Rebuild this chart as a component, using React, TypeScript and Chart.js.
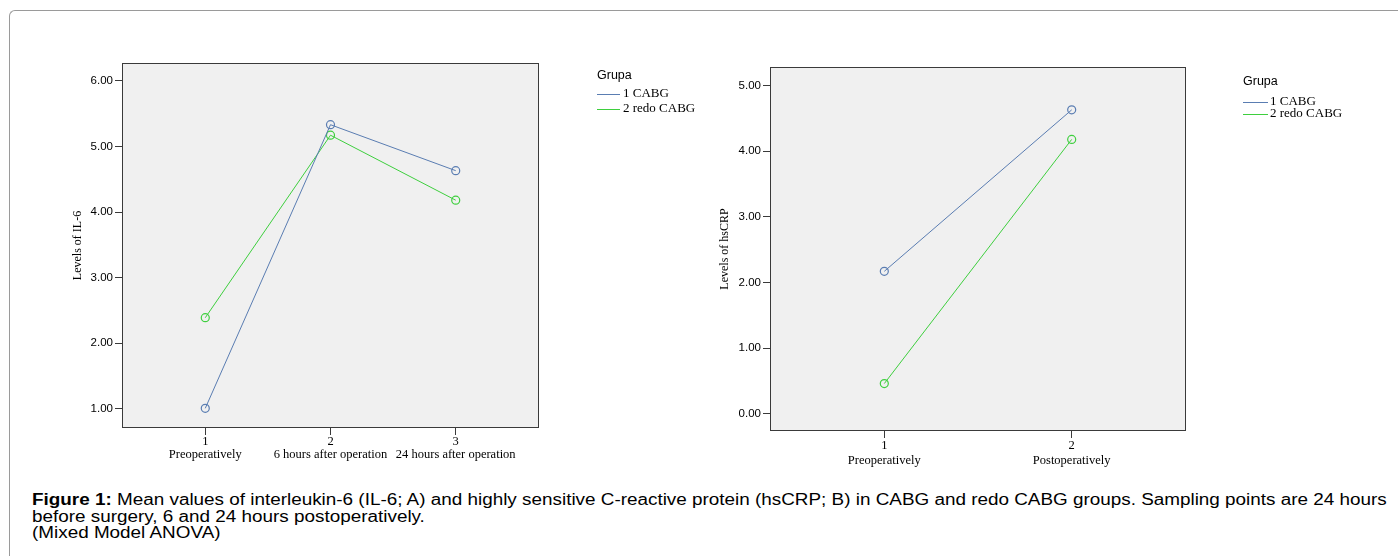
import React, { useEffect, useRef } from "react";
import { Chart, registerables } from "chart.js";

Chart.register(...registerables);

// ---------- data ----------
const groupLabels = ["1 CABG", "2 redo CABG"];
const legendTitle = "Grupa";

const il6Categories = ["Preoperatively", "6 hours after operation", "24 hours after operation"];
const il6Cabg = [1.01, 5.33, 4.63];
const il6Redo = [2.39, 5.17, 4.18];
const il6YTicks = [1, 2, 3, 4, 5, 6];
const il6YTitle = "Levels of IL-6";

const crpCategories = ["Preoperatively", "Postoperatively"];
const crpCabg = [2.17, 4.63];
const crpRedo = [0.46, 4.18];
const crpYTicks = [0, 1, 2, 3, 4, 5];
const crpYTitle = "Levels of hsCRP";

const captionBold = "Figure 1:";
const captionLine1 =
  " Mean values of interleukin-6 (IL-6; A) and highly sensitive C-reactive protein (hsCRP; B) in CABG and redo CABG groups. Sampling points are 24 hours";
const captionLine2 = "before surgery, 6 and 24 hours postoperatively.";
const captionLine3 = "(Mixed Model ANOVA)";

// ---------- styles ----------
const COLORS = ["#5a7db2", "#3ecf3e"];
const SERIF = "'Liberation Serif', 'Times New Roman', serif";
const SANS = "'Liberation Sans', Arial, sans-serif";
const AXIS_COLOR = "#3a3a3a";

type Spec = {
  categories: string[];
  series: number[][];
  yTicks: number[];
  yTitle: string;
  xMin: number;
  xMax: number;
  yMin: number;
  yMax: number;
  padding: { left: number; top: number; right: number; bottom: number };
  yAxisWidth: number;
  xAxisHeight: number;
  xLineHeight: number;
  legend: { dx: number; titleDy: number; firstDy: number; step: number; lineLen: number; textGap: number };
};

function makeConfig(spec: Spec): any {
  const framePlugin = {
    id: "frame",
    beforeDatasetsDraw(chart: any) {
      const { ctx, chartArea: a } = chart;
      ctx.save();
      ctx.fillStyle = "#f0f0f0";
      ctx.fillRect(a.left, a.top, a.right - a.left, a.bottom - a.top);
      ctx.restore();
    },
    afterDraw(chart: any) {
      const { ctx, chartArea: a } = chart;
      ctx.save();
      ctx.strokeStyle = AXIS_COLOR;
      ctx.lineWidth = 1;
      ctx.strokeRect(Math.round(a.left) + 0.5, Math.round(a.top) + 0.5, Math.round(a.right - a.left) - 1, Math.round(a.bottom - a.top) - 1);
      // legend
      const L = spec.legend;
      const x0 = a.right + L.dx;
      ctx.fillStyle = "#000";
      ctx.textBaseline = "middle";
      ctx.textAlign = "left";
      ctx.font = `12.5px ${SANS}`;
      ctx.fillText(legendTitle, x0, a.top + L.titleDy);
      ctx.font = `13px ${SERIF}`;
      chart.data.datasets.forEach((ds: any, i: number) => {
        const y = Math.round(a.top + L.firstDy + i * L.step);
        ctx.strokeStyle = ds.borderColor;
        ctx.lineWidth = 1;
        ctx.beginPath();
        ctx.moveTo(x0, y + 0.5);
        ctx.lineTo(x0 + L.lineLen, y + 0.5);
        ctx.stroke();
        ctx.fillStyle = "#000";
        ctx.fillText(ds.label, x0 + L.lineLen + L.textGap, y);
      });
      ctx.restore();
    },
  };

  return {
    type: "scatter",
    data: {
      datasets: spec.series.map((vals, si) => ({
        label: groupLabels[si],
        data: vals.map((v, i) => ({ x: i + 1, y: v })),
        showLine: true,
        borderColor: COLORS[si],
        borderWidth: 1,
        pointRadius: 4,
        pointHoverRadius: 4,
        pointBorderWidth: 1.2,
        pointBorderColor: COLORS[si],
        pointBackgroundColor: "rgba(0,0,0,0)",
      })),
    },
    options: {
      responsive: false,
      animation: false,
      devicePixelRatio: 1,
      layout: { padding: spec.padding },
      plugins: {
        legend: { display: false },
        tooltip: { enabled: false },
      },
      scales: {
        x: {
          type: "linear",
          min: spec.xMin,
          max: spec.xMax,
          afterBuildTicks: (s: any) => {
            s.ticks = spec.categories.map((_, i) => ({ value: i + 1 }));
          },
          afterFit: (s: any) => {
            s.height = spec.xAxisHeight;
          },
          ticks: {
            autoSkip: false,
            maxRotation: 0,
            padding: 0,
            color: "#000",
            font: { family: SERIF, size: 12.5, lineHeight: spec.xLineHeight },
            callback: (v: any) => {
              const idx = Math.round(Number(v)) - 1;
              return [String(idx + 1), spec.categories[idx] ?? ""];
            },
          },
          grid: {
            drawOnChartArea: false,
            drawTicks: true,
            tickLength: 7,
            color: AXIS_COLOR,
            lineWidth: 1,
          },
          border: { display: false },
        },
        y: {
          type: "linear",
          min: spec.yMin,
          max: spec.yMax,
          afterBuildTicks: (s: any) => {
            s.ticks = spec.yTicks.map((v) => ({ value: v }));
          },
          afterFit: (s: any) => {
            s.width = spec.yAxisWidth;
          },
          ticks: {
            padding: 2,
            color: "#000",
            font: { family: SANS, size: 11.5 },
            callback: (v: any) => Number(v).toFixed(2),
          },
          grid: {
            drawOnChartArea: false,
            drawTicks: true,
            tickLength: 7,
            color: AXIS_COLOR,
            lineWidth: 1,
          },
          border: { display: false },
          title: {
            display: true,
            text: spec.yTitle,
            color: "#000",
            padding: 0,
            font: { family: SERIF, size: 12, lineHeight: 1.2 },
          },
        },
      },
    },
    plugins: [framePlugin],
  };
}

const leftSpec: Spec = {
  categories: il6Categories,
  series: [il6Cabg, il6Redo],
  yTicks: il6YTicks,
  yTitle: il6YTitle,
  xMin: 0.335,
  xMax: 3.665,
  yMin: 0.71,
  yMax: 6.27,
  padding: { left: 71, top: 63, right: 161, bottom: 22 },
  yAxisWidth: 51,
  xAxisHeight: 40,
  xLineHeight: 1.065,
  legend: { dx: 58, titleDy: 13, firstDy: 31, step: 15, lineLen: 23, textGap: 3 },
};

const rightSpec: Spec = {
  categories: crpCategories,
  series: [crpCabg, crpRedo],
  yTicks: crpYTicks,
  yTitle: crpYTitle,
  xMin: 0.39,
  xMax: 2.61,
  yMin: -0.263,
  yMax: 5.283,
  padding: { left: 18, top: 67, right: 212, bottom: 14 },
  yAxisWidth: 52,
  xAxisHeight: 45,
  xLineHeight: 1.2,
  legend: { dx: 57, titleDy: 15, firstDy: 35, step: 12.3, lineLen: 25, textGap: 2 },
};

function ChartCanvas({ spec, left, width, height }: { spec: Spec; left: number; width: number; height: number }) {
  const ref = useRef<HTMLCanvasElement | null>(null);
  useEffect(() => {
    if (!ref.current) return;
    const chart = new Chart(ref.current, makeConfig(spec));
    return () => chart.destroy();
  }, [spec]);
  return (
    <canvas
      ref={ref}
      width={width}
      height={height}
      style={{ position: "absolute", left, top: 0, width, height, display: "block" }}
    />
  );
}

export default function App() {
  return (
    <div
      style={{
        position: "fixed",
        left: 0,
        top: 0,
        width: 1398,
        height: 556,
        background: "#fff",
        overflow: "hidden",
      }}
    >
      <div
        style={{
          position: "absolute",
          left: 9,
          top: 10,
          width: 1500,
          height: 700,
          borderTop: "1.5px solid #9a9a9a",
          borderLeft: "1.5px solid #9a9a9a",
          borderTopLeftRadius: 6,
          boxSizing: "border-box",
        }}
      />
      <ChartCanvas spec={leftSpec} left={0} width={700} height={490} />
      <ChartCanvas spec={rightSpec} left={700} width={698} height={490} />
      <div
        style={{
          position: "absolute",
          left: 32,
          top: 492,
          fontFamily: SANS,
          fontSize: 16,
          lineHeight: "16.5px",
          color: "#000",
          whiteSpace: "nowrap",
          transform: "scaleX(1.18)",
          transformOrigin: "0 0",
        }}
      >
        <b>{captionBold}</b>
        {captionLine1}
        <br />
        {captionLine2}
        <br />
        {captionLine3}
      </div>
    </div>
  );
}
